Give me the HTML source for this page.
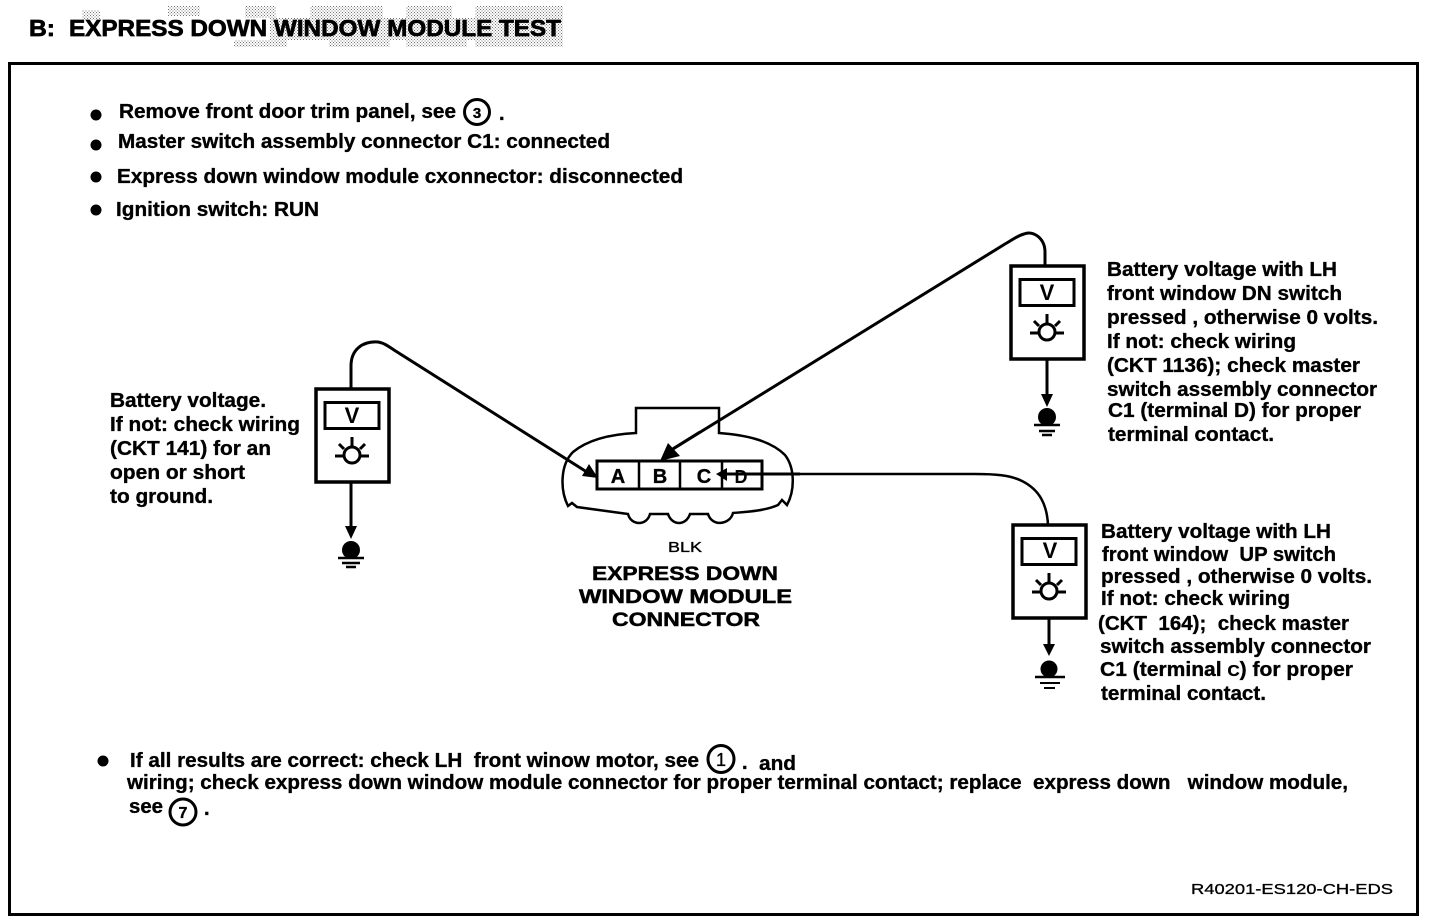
<!DOCTYPE html>
<html>
<head>
<meta charset="utf-8">
<style>
html,body{margin:0;padding:0;background:#fff;width:1440px;height:924px;overflow:hidden}
svg{display:block}
text{font-family:"Liberation Sans",sans-serif;font-weight:bold;fill:#000;stroke:#000;stroke-width:.35px;font-size:20px;white-space:pre}
</style>
</head>
<body>
<svg width="1440" height="924" viewBox="0 0 1440 924" xmlns="http://www.w3.org/2000/svg">
<defs>
<pattern id="d" width="3" height="3" patternUnits="userSpaceOnUse"><rect width="1" height="1" fill="#000"/><rect x="1.5" y="1.5" width="1" height="1" fill="#000"/></pattern>
<g id="meter" fill="none" stroke="#000">
<rect x="0" y="0" width="73" height="93" stroke-width="3.5" fill="#fff"/>
<rect x="9" y="13.5" width="54" height="26" stroke-width="3"/>
<circle cx="36" cy="66" r="8" stroke-width="3"/>
<path d="M36 48v9M23 55l5 5M49 55l-5 5M19 67h9M44 67h9" stroke-width="3"/>
</g>
</defs>
<g fill="url(#d)" opacity=".55">
<rect x="82" y="10" width="18" height="10"/>
<rect x="168" y="6" width="32" height="10"/>
<rect x="245" y="6" width="31" height="12"/>
<rect x="270" y="18" width="293" height="22"/>
<rect x="310" y="6" width="73" height="12"/>
<rect x="406" y="6" width="46" height="12"/>
<rect x="475" y="6" width="88" height="12"/>
<rect x="234" y="40" width="53" height="7"/>
<rect x="329" y="40" width="61" height="7"/>
<rect x="406" y="40" width="61" height="7"/>
<rect x="475" y="40" width="88" height="7"/>
</g>
<text x="29" y="36" textLength="26" lengthAdjust="spacingAndGlyphs" style="font-size:23px;stroke-width:.7px">B:</text>
<text x="69" y="36" textLength="492" lengthAdjust="spacingAndGlyphs" style="font-size:23px;stroke-width:.7px">EXPRESS DOWN WINDOW MODULE TEST</text>
<rect x="9.5" y="63.5" width="1408" height="851" fill="none" stroke="#000" stroke-width="3"/>

<circle cx="96" cy="115" r="5.5"/><circle cx="96" cy="145" r="5.5"/><circle cx="96" cy="177" r="5.5"/><circle cx="96" cy="210" r="5.5"/><circle cx="103" cy="761" r="5.5"/>
<text x="119" y="118" textLength="337" lengthAdjust="spacingAndGlyphs">Remove front door trim panel, see</text>
<circle cx="477" cy="112" r="12.5" fill="none" stroke="#000" stroke-width="3"/>
<text x="477" y="118" text-anchor="middle" style="font-size:15px">3</text>
<text x="499" y="120">.</text>
<text x="118" y="148" textLength="492" lengthAdjust="spacingAndGlyphs">Master switch assembly connector C1: connected</text>
<text x="117" y="183" textLength="566" lengthAdjust="spacingAndGlyphs">Express down window module cxonnector: disconnected</text>
<text x="116" y="216" textLength="203" lengthAdjust="spacingAndGlyphs">Ignition switch: RUN</text>

<use href="#meter" x="316" y="389"/>
<use href="#meter" x="1011" y="266"/>
<use href="#meter" x="1013" y="525"/>
<text x="352" y="423" text-anchor="middle" style="font-size:22px;stroke-width:0">V</text>
<text x="1047" y="300" text-anchor="middle" style="font-size:22px;stroke-width:0">V</text>
<text x="1050" y="558" text-anchor="middle" style="font-size:22px;stroke-width:0">V</text>

<!-- left ground -->
<path d="M351 482V530" stroke="#000" stroke-width="3" fill="none"/>
<path d="M345 526H357L351 539Z"/>
<circle cx="351" cy="550" r="9"/>
<path d="M338 558H364M342 563H360M346 567H356" stroke="#000" stroke-width="2.5"/>
<!-- top right ground -->
<path d="M1047 359V398" stroke="#000" stroke-width="3" fill="none"/>
<path d="M1041 394H1053L1047 407Z"/>
<circle cx="1047" cy="417" r="9"/>
<path d="M1034 425H1060M1039 431H1055M1042 435H1052" stroke="#000" stroke-width="2.5"/>
<!-- bottom right ground -->
<path d="M1049 618V648" stroke="#000" stroke-width="3" fill="none"/>
<path d="M1043 644H1055L1049 656Z"/>
<circle cx="1049" cy="669" r="8.5"/>
<path d="M1035 677H1065" stroke="#000" stroke-width="2.5"/>
<path d="M1040 683H1060M1044 688H1055" stroke="#000" stroke-width="2"/>

<g fill="none" stroke="#000" stroke-width="3">
<path d="M351 389V366C351 350 362 341 378 342C384 343 388 346 394 350L590 474"/>
<path d="M1045 266V252C1045 239 1034 230 1024 234C1017 236 1012 240 1005 244L668 452"/>
<path d="M1048 525C1047 505 1040 490 1022 481C1010 475 995 474 975 474L725 474" stroke-width="2.5"/>
</g>
<path d="M598 478L582 476L589 464Z"/>

<path fill="none" stroke="#000" stroke-width="2.5" d="M636 433V408H719V433C745 435 770 440 785 455C795 468 795 490 787 505L782 500L778 505C765 511 745 512 733 513C730 525 712 527 708 514L690 514C686 526 672 526 668 514L650 514C647 526 631 526 628 514L577 507L572 503L568 506C560 490 560 465 573 452C590 438 615 434 636 433Z"/>
<rect x="597" y="461" width="165" height="28" fill="#fff" stroke="#000" stroke-width="3"/>
<path d="M639 461V489M680 461V489M722 461V489" stroke="#000" stroke-width="2.5"/>
<path d="M660 461L668 443L680 456Z"/>
<path d="M668 452L700 432" stroke="#000" stroke-width="3"/>
<text x="618" y="483" text-anchor="middle" style="font-size:20px">A</text>
<text x="660" y="483" text-anchor="middle" style="font-size:20px">B</text>
<text x="704" y="483" text-anchor="middle" style="font-size:20px">C</text>
<text x="741" y="483" text-anchor="middle" style="font-size:18px;stroke-width:0">D</text>
<path d="M724 474H800" stroke="#000" stroke-width="3"/>
<path d="M716 474L727 468V481Z"/>

<text x="685" y="552" text-anchor="middle" textLength="34" lengthAdjust="spacingAndGlyphs" style="font-size:15px;font-weight:normal">BLK</text>
<text x="592" y="580" textLength="186" lengthAdjust="spacingAndGlyphs" style="font-size:19px;stroke-width:.5px">EXPRESS DOWN</text>
<text x="579" y="603" textLength="213" lengthAdjust="spacingAndGlyphs" style="font-size:19px;stroke-width:.5px">WINDOW MODULE</text>
<text x="612" y="626" textLength="148" lengthAdjust="spacingAndGlyphs" style="font-size:19px;stroke-width:.5px">CONNECTOR</text>

<text x="110" y="407" textLength="156" lengthAdjust="spacingAndGlyphs">Battery voltage.</text>
<text x="110" y="431" textLength="190" lengthAdjust="spacingAndGlyphs">If not: check wiring</text>
<text x="110" y="455" textLength="161" lengthAdjust="spacingAndGlyphs">(CKT 141) for an</text>
<text x="110" y="479" textLength="135" lengthAdjust="spacingAndGlyphs">open or short</text>
<text x="110" y="503" textLength="103" lengthAdjust="spacingAndGlyphs">to ground.</text>

<text x="1107" y="276" textLength="230" lengthAdjust="spacingAndGlyphs">Battery voltage with LH</text>
<text x="1107" y="300" textLength="235" lengthAdjust="spacingAndGlyphs">front window DN switch</text>
<text x="1107" y="324" textLength="271" lengthAdjust="spacingAndGlyphs">pressed , otherwise 0 volts.</text>
<text x="1107" y="348" textLength="189" lengthAdjust="spacingAndGlyphs">If not: check wiring</text>
<text x="1107" y="372" textLength="253" lengthAdjust="spacingAndGlyphs">(CKT 1136); check master</text>
<text x="1107" y="396" textLength="270" lengthAdjust="spacingAndGlyphs">switch assembly connector</text>
<text x="1108" y="417" textLength="253" lengthAdjust="spacingAndGlyphs">C1 (terminal D) for proper</text>
<text x="1108" y="441" textLength="166" lengthAdjust="spacingAndGlyphs">terminal contact.</text>

<text x="1101" y="538" textLength="230" lengthAdjust="spacingAndGlyphs">Battery voltage with LH</text>
<text x="1102" y="561" textLength="234" lengthAdjust="spacingAndGlyphs">front window  UP switch</text>
<text x="1101" y="583" textLength="271" lengthAdjust="spacingAndGlyphs">pressed , otherwise 0 volts.</text>
<text x="1101" y="605" textLength="189" lengthAdjust="spacingAndGlyphs">If not: check wiring</text>
<text x="1098" y="630" textLength="251" lengthAdjust="spacingAndGlyphs">(CKT  164);  check master</text>
<text x="1100" y="653" textLength="271" lengthAdjust="spacingAndGlyphs">switch assembly connector</text>
<text x="1100" y="676" textLength="253" lengthAdjust="spacingAndGlyphs">C1 (terminal <tspan style="font-size:16px">C</tspan>) for proper</text>
<text x="1101" y="700" textLength="165" lengthAdjust="spacingAndGlyphs">terminal contact.</text>

<text x="130" y="767" textLength="569" lengthAdjust="spacingAndGlyphs">If all results are correct: check LH  front winow motor, see</text>
<ellipse cx="721" cy="759" rx="13" ry="13.5" fill="none" stroke="#000" stroke-width="3"/>
<text x="721" y="766" text-anchor="middle" style="font-size:18px;font-weight:normal">1</text>
<text x="742" y="769">.</text>
<text x="759" y="770" textLength="37" lengthAdjust="spacingAndGlyphs">and</text>
<text x="127" y="789" textLength="1221" lengthAdjust="spacingAndGlyphs">wiring; check express down window module connector for proper terminal contact; replace  express down   window module,</text>
<text x="129" y="813" textLength="34" lengthAdjust="spacingAndGlyphs">see</text>
<circle cx="183" cy="812" r="13" fill="none" stroke="#000" stroke-width="3"/>
<text x="183" y="818" text-anchor="middle" style="font-size:16px">7</text>
<text x="204" y="815">.</text>

<text x="1191" y="894" textLength="202" lengthAdjust="spacingAndGlyphs" style="font-size:15px;font-weight:normal;stroke-width:.3px">R40201-ES120-CH-EDS</text>
</svg>
</body>
</html>
